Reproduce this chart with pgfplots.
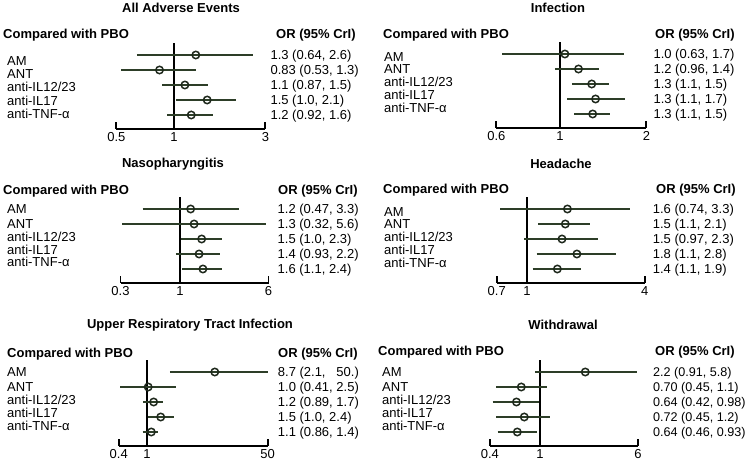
\documentclass[border=0pt]{standalone}
\usepackage{fontspec}
\setmainfont{Liberation Sans}
\usepackage{pgfplots}
\pgfplotsset{compat=1.18}
\definecolor{cicol}{RGB}{45,62,40}
\definecolor{mkcol}{RGB}{30,40,28}
\newcommand\reg{\fontsize{13bp}{16bp}\selectfont}
\newcommand\sml{\fontsize{12.6bp}{16bp}\selectfont}
\newcommand\bld{\fontsize{13bp}{16bp}\selectfont\bfseries}
\newcommand\ci[3]{\addplot[cicol, line width=2bp, forget plot] coordinates {(#1,#3) (#2,#3)};}
\newcommand\val[4]{\node[anchor=base west, inner sep=0pt, xshift=#1bp, yshift=-4.7bp] at (axis cs:#2,#3) {#4};}
\pgfplotsset{
  panel/.style={
    scale only axis, height=86bp, ymin=0.06667, ymax=5.8,
    anchor=north west, clip=false, enlargelimits=false,
    axis x line*=bottom, axis y line*=left,
    y axis line style={draw=none}, ytick style={draw=none},
    x axis line style={-, line width=1.8bp, black},
    xtick style={line width=1.8bp, black},
    tick align=inside, major tick length=7bp, minor xtick={},
    tick label style={font=\reg},
    yticklabel style={anchor=base west, inner sep=0pt, yshift=-4.7bp},
    yticklabels={AM,ANT,anti-IL12/23,anti-IL17,anti-TNF-α},
  },
  vref/.style={black, line width=2bp, forget plot},
  pts/.style={only marks, mark=o, mark size=3.7bp, mkcol, mark options={line width=1.5bp}},
}
\begin{document}
\begin{tikzpicture}[font=\reg]
\path[use as bounding box] (0,0) rectangle (751bp,463bp);
\begin{scope}[font=\bld]
\node at (181bp,455bp) {All Adverse Events};
\node at (558bp,455bp) {Infection};
\node at (173bp,299bp) {Nasopharyngitis};
\node at (561bp,299bp) {Headache};
\node at (190bp,138bp) {Upper Respiratory Tract Infection};
\node at (563bp,138bp) {Withdrawal};
\tikzset{every node/.style={anchor=base west, inner sep=0pt}}
\node at (3bp,424bp) {Compared with PBO};
\node at (383bp,424bp) {Compared with PBO};
\node at (3bp,268bp) {Compared with PBO};
\node at (383bp,269bp) {Compared with PBO};
\node at (7bp,105bp) {Compared with PBO};
\node at (378bp,107bp) {Compared with PBO};
\node at (276bp,424bp) {OR (95\% CrI)};
\node at (655bp,424bp) {OR (95\% CrI)};
\node at (278bp,268bp) {OR (95\% CrI)};
\node at (656bp,269bp) {OR (95\% CrI)};
\node at (278bp,105bp) {OR (95\% CrI)};
\node at (655bp,107bp) {OR (95\% CrI)};
\end{scope}
% Panel 1
\begin{axis}[xmode=log, panel, at={(116.37bp,420bp)}, width=149bp, xmin=0.5, xmax=3,
  xtick={0.5,1,3}, xticklabels={0.5,1,3},
  ytick={4.63,3.74,2.85,1.96,1.07}, yticklabel style={xshift=-109.37bp}]
\addplot[vref] coordinates {(1,0.06667) (1,5.8)};
\ci{0.64}{2.6}{5}\ci{0.53}{1.3}{4}\ci{0.87}{1.5}{3}\ci{1.03}{2.1}{2}\ci{0.92}{1.6}{1}
\addplot[pts] coordinates {(1.3,5) (0.84,4) (1.14,3) (1.49,2) (1.23,1)};
\val{5}{3}{5}{1.3 (0.64, 2.6)}
\val{5}{3}{4}{0.83 (0.53, 1.3)}
\val{5}{3}{3}{1.1 (0.87, 1.5)}
\val{5}{3}{2}{1.5 (1.0, 2.1)}
\val{5}{3}{1}{1.2 (0.92, 1.6)}
\end{axis}
% Panel 2
\begin{axis}[xmode=log, panel, at={(496.36bp,421bp)}, width=150bp, xmin=0.6, xmax=2,
  xtick={0.6,1,2}, xticklabels={0.6,1,2},
  ytick={4.83,3.98,3.13,2.28,1.43}, yticklabel style={xshift=-112.36bp}]
\addplot[vref] coordinates {(1,0.06667) (1,5.8)};
\ci{0.63}{1.67}{5}\ci{0.96}{1.37}{4}\ci{1.1}{1.48}{3}\ci{1.06}{1.69}{2}\ci{1.12}{1.49}{1}
\addplot[pts] coordinates {(1.04,5) (1.16,4) (1.29,3) (1.33,2) (1.3,1)};
\val{7}{2}{5}{1.0 (0.63, 1.7)}
\val{7}{2}{4}{1.2 (0.96, 1.4)}
\val{7}{2}{3}{1.3 (1.1, 1.5)}
\val{7}{2}{2}{1.3 (1.1, 1.7)}
\val{7}{2}{1}{1.3 (1.1, 1.5)}
\end{axis}
% Panel 3
\begin{axis}[xmode=log, panel, at={(120.53bp,266bp)}, width=148bp, xmin=0.3, xmax=6,
  xtick={0.3,1,6}, xticklabels={0.3,1,6},
  ytick={5,4.0,3.15,2.3,1.45}, yticklabel style={xshift=-113.53bp}]
\addplot[vref] coordinates {(1,0.06667) (1,5.8)};
\ci{0.47}{3.3}{5}\ci{0.31}{5.7}{4}\ci{1.01}{2.33}{3}\ci{0.92}{2.25}{2}\ci{1.05}{2.36}{1}
\addplot[pts] coordinates {(1.24,5) (1.33,4) (1.55,3) (1.47,2) (1.59,1)};
\val{9}{6}{5}{1.2 (0.47, 3.3)}
\val{9}{6}{4}{1.3 (0.32, 5.6)}
\val{9}{6}{3}{1.5 (1.0, 2.3)}
\val{9}{6}{2}{1.4 (0.93, 2.2)}
\val{9}{6}{1}{1.6 (1.1, 2.4)}
\end{axis}
% Panel 4
\begin{axis}[xmode=log, panel, at={(496.7bp,266bp)}, width=148bp, xmin=0.7, xmax=4,
  xtick={0.7,1,4}, xticklabels={0.7,1,4},
  ytick={4.83,3.98,3.13,2.28,1.43}, yticklabel style={xshift=-112.7bp}]
\addplot[vref] coordinates {(1,0.06667) (1,5.8)};
\ci{0.73}{3.36}{5}\ci{1.14}{2.11}{4}\ci{0.97}{2.3}{3}\ci{1.12}{2.86}{2}\ci{1.07}{1.89}{1}
\addplot[pts] coordinates {(1.61,5) (1.57,4) (1.51,3) (1.8,2) (1.43,1)};
\val{8}{4}{5}{1.6 (0.74, 3.3)}
\val{8}{4}{4}{1.5 (1.1, 2.1)}
\val{8}{4}{3}{1.5 (0.97, 2.3)}
\val{8}{4}{2}{1.8 (1.1, 2.8)}
\val{8}{4}{1}{1.4 (1.1, 1.9)}
\end{axis}
% Panel 5
\begin{axis}[xmode=log, panel, at={(118.72bp,103bp)}, width=149bp, xmin=0.4, xmax=50,
  xtick={0.4,1,50}, xticklabels={0.4,1,50},
  ytick={5,4.02,3.16,2.3,1.4}, yticklabel style={xshift=-111.72bp}]
\addplot[vref] coordinates {(1,0.06667) (1,5.8)};
\ci{2.1}{50}{5}\ci{0.42}{2.55}{4}\ci{0.89}{1.69}{3}\ci{1.02}{2.41}{2}\ci{0.87}{1.41}{1}
\addplot[pts] coordinates {(9.0,5) (1.04,4) (1.24,3) (1.56,2) (1.15,1)};
\val{10}{50}{5}{8.7 (2.1,\ \ \ 50.)}
\val{10}{50}{4}{1.0 (0.41, 2.5)}
\val{10}{50}{3}{1.2 (0.89, 1.7)}
\val{10}{50}{2}{1.5 (1.0, 2.4)}
\val{10}{50}{1}{1.1 (0.86, 1.4)}
\end{axis}
% Panel 6
\begin{axis}[xmode=log, panel, at={(489.92bp,103bp)}, width=148bp, xmin=0.4, xmax=6,
  xtick={0.4,1,6}, xticklabels={0.4,1,6},
  ytick={5,4.02,3.16,2.3,1.4}, yticklabel style={xshift=-107.92bp}]
\addplot[vref] coordinates {(1,0.06667) (1,5.8)};
\ci{0.92}{5.9}{5}\ci{0.45}{1.14}{4}\ci{0.42}{0.98}{3}\ci{0.45}{1.19}{2}\ci{0.46}{0.94}{1}
\addplot[pts] coordinates {(2.29,5) (0.71,4) (0.65,3) (0.75,2) (0.66,1)};
\val{15}{6}{5}{\sml 2.2 (0.91, 5.8)}
\val{15}{6}{4}{\sml 0.70 (0.45, 1.1)}
\val{15}{6}{3}{\sml 0.64 (0.42, 0.98)}
\val{15}{6}{2}{\sml 0.72 (0.45, 1.2)}
\val{15}{6}{1}{\sml 0.64 (0.46, 0.93)}
\end{axis}
\end{tikzpicture}
\end{document}
